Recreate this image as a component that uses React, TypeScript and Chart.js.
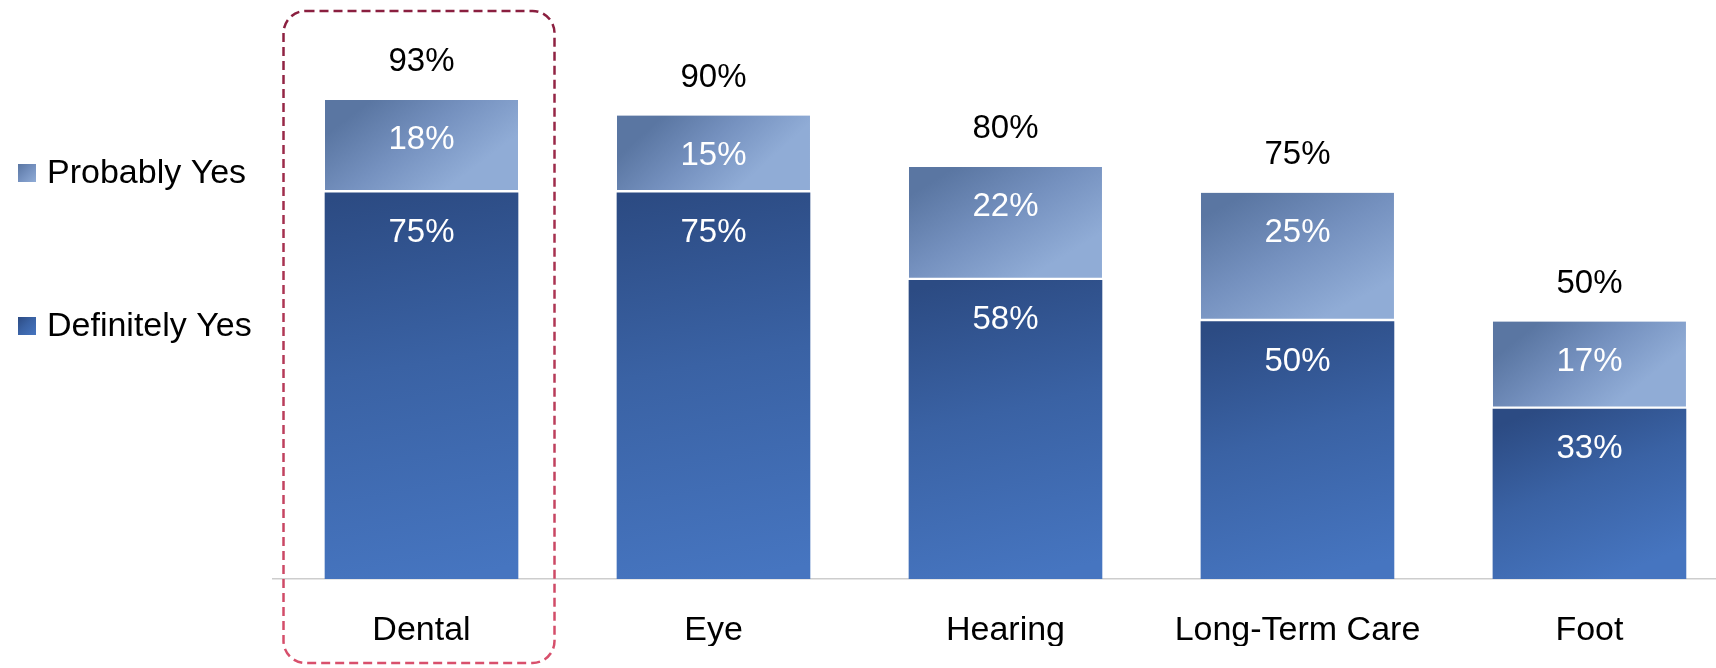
import { useEffect, useRef } from "react";
import { Chart, registerables } from "chart.js";

Chart.register(...registerables);

const categories = ["Dental", "Eye", "Hearing", "Long-Term Care", "Foot"];
const definitelyYes = [75, 75, 58, 50, 33];
const probablyYes = [18, 15, 22, 25, 17];
const totals = [93, 90, 80, 75, 50];
const seriesNames = ["Definitely Yes", "Probably Yes"];

const FONT = '"Liberation Sans", Arial, sans-serif';

const defStops: [number, string][] = [
  [0, "#2c4b83"],
  [0.45, "#3a62a4"],
  [1, "#4675c0"],
];
const probStops: [number, string][] = [
  [0, "#5a76a2"],
  [0.5, "#7591bf"],
  [1, "#90acd6"],
];

function gradientFill(seriesIdx: number) {
  return (c: any) => {
    const chart = c.chart;
    const xs = chart.scales?.x;
    const ys = chart.scales?.y;
    const stops = seriesIdx === 0 ? defStops : probStops;
    if (!xs || !ys || c.type !== "data") return stops[1][1];
    const i = c.dataIndex;
    const base = seriesIdx === 0 ? 0 : definitelyYes[i];
    const top = base + (seriesIdx === 0 ? definitelyYes[i] : probablyYes[i]);
    const cx = xs.getPixelForValue(i);
    const y0 = ys.getPixelForValue(top);
    const y1 = ys.getPixelForValue(base);
    if (![cx, y0, y1].every((v) => Number.isFinite(v))) return stops[1][1];
    const g = chart.ctx.createLinearGradient(cx - 50, y0, cx + 20, y1);
    stops.forEach(([o, col]) => g.addColorStop(o, col));
    return g;
  };
}

const overlayPlugin = {
  id: "overlay",
  afterDatasetsDraw(chart: any) {
    const { ctx, scales } = chart;
    const x = scales.x;
    const y = scales.y;
    ctx.save();
    ctx.font = `33px ${FONT}`;
    ctx.textAlign = "center";
    ctx.textBaseline = "middle";
    categories.forEach((_, i) => {
      const cx = x.getPixelForValue(i);
      const dTop = y.getPixelForValue(definitelyYes[i]);
      const pTop = y.getPixelForValue(definitelyYes[i] + probablyYes[i]);
      ctx.fillStyle = "#ffffff";
      ctx.fillText(`${probablyYes[i]}%`, cx, pTop + 40);
      ctx.fillText(`${definitelyYes[i]}%`, cx, dTop + 40);
      ctx.fillStyle = "#000000";
      ctx.fillText(`${totals[i]}%`, cx, y.getPixelForValue(totals[i]) - 38);
    });

    // highlight box around first category
    const c0 = x.getPixelForValue(0);
    const bx0 = c0 - 138;
    const bx1 = c0 + 133;
    const by0 = 11;
    const by1 = chart.height - 5;
    const sg = ctx.createLinearGradient(0, by0, 0, by1);
    sg.addColorStop(0, "#8a1f3f");
    sg.addColorStop(1, "#d8506c");
    ctx.strokeStyle = sg;
    ctx.lineWidth = 2.5;
    ctx.setLineDash([9, 5]);
    ctx.beginPath();
    ctx.roundRect(bx0, by0, bx1 - bx0, by1 - by0, 22);
    ctx.stroke();
    ctx.setLineDash([]);

    // legend
    const legendItems = [
      { name: seriesNames[1], stops: probStops, cy: 173 },
      { name: seriesNames[0], stops: defStops, cy: 326 },
    ];
    ctx.font = `34px ${FONT}`;
    ctx.textAlign = "left";
    legendItems.forEach((it) => {
      const g = ctx.createLinearGradient(18, it.cy - 9, 36, it.cy + 9);
      it.stops.forEach(([o, col]) => g.addColorStop(o, col));
      ctx.fillStyle = g;
      ctx.fillRect(18, it.cy - 9, 18, 18);
      ctx.fillStyle = "#000000";
      ctx.fillText(it.name, 47, it.cy + 1);
    });
    ctx.restore();
  },
};

export default function App() {
  const ref = useRef<HTMLCanvasElement | null>(null);

  useEffect(() => {
    document.body.style.margin = "0";
    document.body.style.overflow = "hidden";
    if (!ref.current) return;
    const chart = new Chart(ref.current, {
      type: "bar",
      data: {
        datasets: [
          {
            label: seriesNames[0],
            data: definitelyYes.map((v, i) => ({ x: i, y: v })),
            backgroundColor: gradientFill(0),
            borderWidth: 0,
            barThickness: 193,
          },
          {
            label: seriesNames[1],
            data: probablyYes.map((v, i) => ({ x: i, y: v })),
            backgroundColor: gradientFill(1),
            borderColor: "#ffffff",
            borderWidth: { top: 0, left: 0, right: 0, bottom: 3 },
            borderSkipped: false,
            barThickness: 193,
          },
        ],
      },
      options: {
        animation: false,
        responsive: true,
        maintainAspectRatio: false,
        layout: { padding: { left: 273, right: 0, top: 64, bottom: 22 } },
        plugins: {
          legend: { display: false },
          tooltip: { enabled: false },
        },
        scales: {
          x: {
            type: "linear",
            stacked: true,
            offset: false,
            min: -0.5086,
            max: 4.4334,
            afterBuildTicks: (axis: any) => {
              axis.ticks = categories.map((_, i) => ({ value: i }));
            },
            afterFit: (axis: any) => {
              axis.height = 67;
            },
            ticks: {
              autoSkip: false,
              maxRotation: 0,
              padding: 31,
              color: "#000000",
              font: { family: FONT, size: 34 },
              callback: (v: any) => categories[Number(v)] ?? "",
            },
            grid: {
              display: true,
              drawOnChartArea: false,
              drawTicks: false,
              color: "rgba(0,0,0,0)",
            },
            border: { display: true, color: "#cdcdcd", width: 1.5 },
          },
          y: {
            stacked: true,
            display: false,
            min: 0,
            max: 100,
          },
        },
      },
      plugins: [overlayPlugin],
    });
    return () => chart.destroy();
  }, []);

  return (
    <div style={{ position: "relative", width: "1716px", height: "668px", background: "#ffffff" }}>
      <canvas ref={ref} />
    </div>
  );
}
